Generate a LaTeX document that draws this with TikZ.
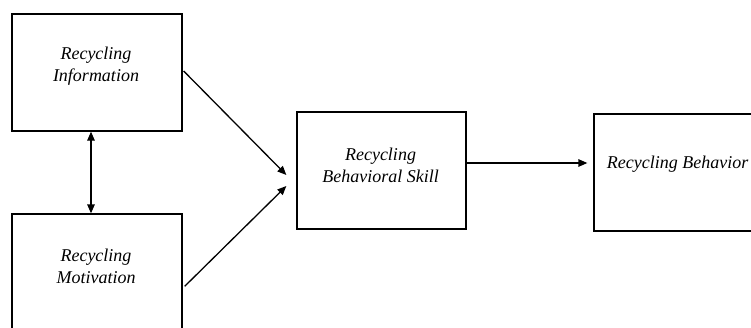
\documentclass[tikz,border=0pt]{standalone}
\usepackage{fontspec}
\setmainfont{Liberation Serif}
\usetikzlibrary{arrows.meta}
\begin{document}
\begin{tikzpicture}[x=1pt,y=-1pt,
  box/.style={draw=black,line width=1.3pt,minimum width=170pt,minimum height=117pt,inner sep=0pt},
  lbl/.style={font=\fontsize{18}{22}\selectfont\itshape,align=center,inner sep=0pt},
  arr/.style={line width=1.3pt,-{Triangle[length=9pt,width=7.5pt]}},
  darr/.style={line width=1.3pt,{Triangle[length=9pt,width=7.5pt]}-{Triangle[length=9pt,width=7.5pt]}}]
\useasboundingbox (0,0) rectangle (751,327);
\clip (0,0) rectangle (751,327);
\node[box] (A) at (97,72.5) {};
\node[box] (B) at (97,272.5) {};
\node[box,minimum width=169pt] (C) at (381.5,170.5) {};
\node[box,minimum width=169pt] (D) at (678.5,172.5) {};
\node[lbl] (tA) at (96,66) {Recycling\\Information};
\node[lbl] (tB) at (96,266) {Recycling\\Motivation};
\node[lbl] (tC) at (380.5,165) {Recycling\\Behavioral Skill};
\node[lbl,anchor=base] (tD) at (677.5,168.7) {Recycling Behavior};
\draw[darr] ([xshift=-6pt]A.south) -- ([xshift=-6pt]B.north);
\draw[arr] ([xshift=1pt,yshift=1.5pt]A.east) -- ([xshift=-10pt,yshift=-4.5pt]C.west);
\draw[arr] ([xshift=2pt,yshift=-73pt]B.north east) -- ([xshift=-10pt,yshift=-15.5pt]C.west);
\draw[arr] ([yshift=7.5pt]C.east) -- ([xshift=-6pt,yshift=9.5pt]D.west);
\end{tikzpicture}
\end{document}
